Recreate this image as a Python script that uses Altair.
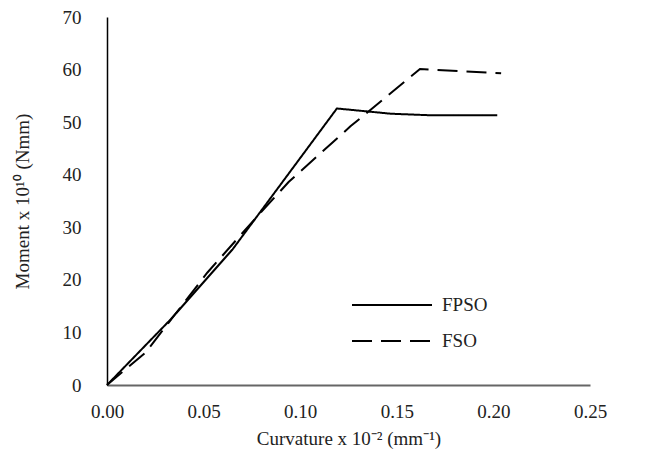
import altair as alt
import pandas as pd

# Data
fpso_x = [0.0, 0.033, 0.065, 0.119, 0.147, 0.168, 0.202]
fpso_y = [0.0, 12.5, 25.8, 52.6, 51.6, 51.3, 51.3]
fso_x = [0.0, 0.020, 0.052, 0.080, 0.094, 0.126, 0.162, 0.204]
fso_y = [0.0, 6.2, 21.4, 33.0, 38.6, 49.2, 60.1, 59.3]
series_names = ["FPSO", "FSO"]
x_ticks = [0.0, 0.05, 0.10, 0.15, 0.20, 0.25]
y_ticks = [0, 10, 20, 30, 40, 50, 60, 70]

rows = []
for i, (x, y) in enumerate(zip(fpso_x, fpso_y)):
    rows.append({"series": series_names[0], "curv": x, "moment": y, "i": i})
for i, (x, y) in enumerate(zip(fso_x, fso_y)):
    rows.append({"series": series_names[1], "curv": x, "moment": y, "i": i})
df = pd.DataFrame(rows)

FONT = "Liberation Serif"

chart = alt.Chart(df).mark_line(color="black", strokeWidth=2).encode(
    x=alt.X("curv:Q",
            scale=alt.Scale(domain=[0, 0.25], nice=False),
            axis=alt.Axis(values=x_ticks, format=".2f", labelFlush=False,
                          title="Curvature x 10\u207b\u00b2 (mm\u207b\u00b9)")),
    y=alt.Y("moment:Q",
            scale=alt.Scale(domain=[0, 70], nice=False),
            axis=alt.Axis(values=y_ticks, format="d", labelFlush=False,
                          title="Moment x 10\u00b9\u2070 (Nmm)")),
    strokeDash=alt.StrokeDash(
        "series:N",
        scale=alt.Scale(domain=series_names, range=[[1, 0], [20, 9]]),
        legend=alt.Legend(title=None, orient="none", legendX=274, legendY=277,
                          symbolType="M-4,0H4", symbolSize=400,
                          symbolStrokeWidth=2, symbolStrokeColor="black",
                          symbolFillColor="transparent",
                          labelFontSize=19, labelFont=FONT, labelColor="#222",
                          labelOffset=39, rowPadding=15)),
    order="i:Q",
).properties(
    width=483, height=368,
    autosize=alt.AutoSizeParams(type="none"),
    padding={"left": 99, "top": 9, "right": 45, "bottom": 75},
).configure_view(
    stroke=None
).configure_axis(
    grid=False, ticks=False,
    labelFont=FONT, labelFontSize=19, labelColor="#222",
    titleFont=FONT, titleFontSize=19, titleColor="#222", titleFontWeight="normal",
).configure_axisX(
    domainColor="#666", domainWidth=2, labelPadding=17, titlePadding=8,
).configure_axisY(
    domainColor="#000", domainWidth=1.5, labelPadding=26, titlePadding=30,
)

chart.save("out.html", embed_options={"renderer": "svg", "actions": False})
